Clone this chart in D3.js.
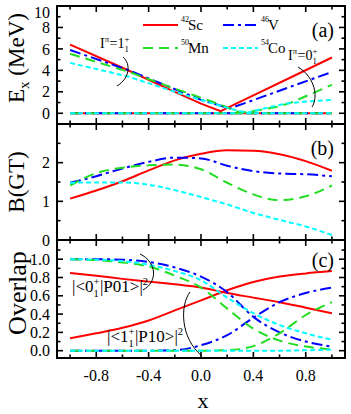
<!DOCTYPE html>
<html><head><meta charset="utf-8">
<script src="https://cdn.jsdelivr.net/npm/d3@7"></script>
<style>
body{margin:0;background:#fff}
svg{display:block}
svg text{font-family:"Liberation Serif","Times New Roman",serif;fill:#000}
</style>
</head><body>
<svg id="chart" width="351" height="414" font-family="Liberation Serif, serif"></svg>
<script>
// ---------------- DATA ----------------
const isotopes = ["Sc", "V", "Mn", "Co"];
const massNumbers = ["42", "46", "50", "54"];
const colors = ["#ff0000", "#0000ff", "#22dd22", "#00ffff"];
const dashes = [null, "11,4,3,4", "10,6", "5,3"];

// panel (a): excitation energy of the non-ground state [x, Ex]
const exSc = [[-1,6.4],[-0.6,4.24],[-0.2,2.0],[0,0.9],[0.15,0.2],[0.4,1.67],[0.7,3.43],[1,5.2]];
const exV  = [[-1,5.9],[-0.55,4.0],[-0.2,2.25],[0,1.25],[0.22,0.45],[0.4,1.23],[0.7,2.54],[1,3.85]];
const exMn = [[-1,5.55],[-0.55,3.85],[-0.2,2.3],[0,1.45],[0.15,0.8],[0.3,0.05],[0.45,0.3],[0.6,0.65],[0.7,1.05],[0.85,1.85],[1,2.65]];
const exCo = [[-1,4.7],[-0.55,3.4],[-0.2,2.0],[0,1.25],[0.2,0.5],[0.35,0.05],[0.5,0.5],[0.65,0.9],[0.8,1.1],[1,1.25]];
const groundLine = [[-1,0],[1,0]];

// shared x grid for panels (b) and (c)
const xGrid = [-1,-0.8,-0.6,-0.4,-0.2,0,0.2,0.4,0.6,0.8,1];

// panel (b): B(GT)
const bgtSc = [1.07,1.28,1.52,1.80,2.06,2.23,2.32,2.31,2.22,2.04,1.79];
const bgtV  = [1.48,1.65,1.85,2.02,2.13,2.11,1.92,1.78,1.72,1.70,1.65];
const bgtMn = [1.41,1.73,1.87,1.93,1.95,1.83,1.48,1.18,1.03,1.13,1.41];
const bgtCo = [1.48,1.49,1.49,1.43,1.29,1.11,0.92,0.70,0.52,0.35,0.13];

// panel (c): overlaps |<0+|P01>|^2 and |<1+|P10>|^2
const ov01Sc = [0.85,0.82,0.785,0.755,0.725,0.69,0.63,0.58,0.53,0.47,0.41];
const ov10Sc = [0.135,0.19,0.25,0.33,0.44,0.55,0.66,0.75,0.81,0.845,0.87];
const ov01V  = [1.0,1.0,0.995,0.97,0.91,0.81,0.64,0.37,0.2,0.1,0.045];
const ov10V  = [0,0,0,0,0.005,0.06,0.17,0.36,0.53,0.63,0.69];
const ov01Mn = [1.0,0.99,0.965,0.92,0.82,0.69,0.46,0.24,0.11,0.045,0.015];
const ov10Mn = [0,0,0,0,0,0,0.005,0.05,0.19,0.39,0.53];
const ov01Co = [1.0,0.995,0.98,0.94,0.87,0.77,0.58,0.41,0.28,0.19,0.12];
const ov10Co = [0,0,0,0,0,0,0,0,0,0.005,0.01];

// ticks
const xMajor = [-0.8,-0.4,0,0.4,0.8];
const xMinor = [-1,-0.6,-0.2,0.2,0.6,1];
const xTickLabels = ["-0.8","-0.4","0.0","0.4","0.8"];
const yMajorA = [0,2,4,6,8,10], yMinorA = [-1,1,3,5,7,9];
const yLabelsA = ["0","2","4","6","8","10"];
const yMajorB = [0,1,2,3], yMinorB = [0.5,1.5,2.5];
const yLabelsB = ["0","1","2"];
const yMajorC = [0,0.2,0.4,0.6,0.8,1.0], yMinorC = [0.1,0.3,0.5,0.7,0.9,1.1];
const yLabelsC = ["0.0","0.2","0.4","0.6","0.8","1.0"];

// ---------------- LAYOUT ----------------
const svg = d3.select("#chart");
const L = 57, R = 345;
const x = d3.scaleLinear().domain([-1.1, 1.1]).range([L, R]);
const panels = [
  {top: 6, bottom: 124, y: d3.scaleLinear().domain([-1, 10]).range([124, 6]),
   maj: yMajorA, min: yMinorA, labels: yLabelsA},
  {top: 124, bottom: 240, y: d3.scaleLinear().domain([0, 3]).range([240, 124]),
   maj: yMajorB, min: yMinorB, labels: yLabelsB},
  {top: 240, bottom: 358, y: d3.scaleLinear().domain([-0.08, 1.21]).range([358, 240]),
   maj: yMajorC, min: yMinorC, labels: yLabelsC}
];

const lineGen = (ys, curve) => d3.line().x(d => x(d[0])).y(d => ys(d[1])).curve(curve);

function drawSeries(g, p, data, i, curve) {
  const path = g.append("path").datum(data)
    .attr("fill", "none").attr("stroke", colors[i]).attr("stroke-width", 2)
    .attr("d", lineGen(p.y, curve));
  if (dashes[i]) path.attr("stroke-dasharray", dashes[i]);
}

const plot = svg.append("g");

// panel a
{
  const p = panels[0];
  const exAll = [exSc, exV, exMn, exCo];
  exAll.forEach((d, i) => drawSeries(plot, p, groundLine, i, d3.curveLinear));
  exAll.forEach((d, i) => drawSeries(plot, p, d, i, d3.curveLinear));
}
// panel b
{
  const p = panels[1];
  [bgtSc, bgtV, bgtMn, bgtCo].forEach((v, i) =>
    drawSeries(plot, p, xGrid.map((xx, k) => [xx, v[k]]), i, d3.curveMonotoneX));
}
// panel c
{
  const p = panels[2];
  const s01 = [ov01Sc, ov01V, ov01Mn, ov01Co];
  const s10 = [ov10Sc, ov10V, ov10Mn, ov10Co];
  [0,1,2,3].forEach(i => {
    drawSeries(plot, p, xGrid.map((xx, k) => [xx, s01[i][k]]), i, d3.curveMonotoneX);
    drawSeries(plot, p, xGrid.map((xx, k) => [xx, s10[i][k]]), i, d3.curveMonotoneX);
  });
}

// frames and ticks
panels.forEach(p => {
  const g = svg.append("g");
  const tk = (x1, y1, x2, y2) => g.append("line").attr("x1", x1).attr("y1", y1).attr("x2", x2).attr("y2", y2)
    .attr("stroke", "#000").attr("stroke-width", 1.6);
  xMajor.forEach(v => { tk(x(v), p.bottom, x(v), p.bottom - 6); tk(x(v), p.top, x(v), p.top + 6); });
  xMinor.forEach(v => { tk(x(v), p.bottom, x(v), p.bottom - 3.5); tk(x(v), p.top, x(v), p.top + 3.5); });
  p.maj.forEach(v => { tk(L, p.y(v), L + 6, p.y(v)); tk(R, p.y(v), R - 6, p.y(v)); });
  p.min.forEach(v => { tk(L, p.y(v), L + 3.5, p.y(v)); tk(R, p.y(v), R - 3.5, p.y(v)); });
  g.append("rect").attr("x", L).attr("y", p.top).attr("width", R - L).attr("height", p.bottom - p.top)
    .attr("fill", "none").attr("stroke", "#000").attr("stroke-width", 2);
  p.labels.forEach((s, k) => {
    const yy = Math.max(p.y(p.maj[k]), 12);
    g.append("text").attr("x", L - 7).attr("y", yy).attr("dy", "0.35em")
      .attr("text-anchor", "end").attr("font-size", 16).text(s);
  });
});

// x tick labels
xMajor.forEach((v, k) => {
  svg.append("text").attr("x", x(v)).attr("y", 381).attr("text-anchor", "middle")
    .attr("font-size", 16).text(xTickLabels[k]);
});

// axis titles
svg.append("text").attr("x", 203).attr("y", 408).attr("text-anchor", "middle").attr("font-size", 22).text("x");
{
  const t = svg.append("text").attr("transform", "translate(24,58) rotate(-90)")
    .attr("text-anchor", "middle").attr("font-size", 23);
  t.append("tspan").text("E");
  t.append("tspan").attr("font-size", 15).attr("dy", 5).text("x");
  t.append("tspan").attr("dy", -5).text(" (MeV)");
}
svg.append("text").attr("transform", "translate(24,182) rotate(-90)")
  .attr("text-anchor", "middle").attr("font-size", 23).text("B(GT)");
svg.append("text").attr("transform", "translate(26,293) rotate(-90)")
  .attr("text-anchor", "middle").attr("font-size", 26).text("Overlap");

// panel labels
[["(a)", 37], ["(b)", 155], ["(c)", 267]].forEach(([s, yy]) =>
  svg.append("text").attr("x", 334).attr("y", yy).attr("text-anchor", "end").attr("font-size", 20).text(s));

// legend
[[0, 143, 25], [1, 223, 25], [2, 143, 48], [3, 223, 48]].forEach(([i, lx, ly]) => {
  const ln = svg.append("line").attr("x1", lx).attr("x2", lx + 35).attr("y1", ly).attr("y2", ly)
    .attr("stroke", colors[i]).attr("stroke-width", 2);
  if (dashes[i]) ln.attr("stroke-dasharray", dashes[i]);
  svg.append("text").attr("x", lx + 38).attr("y", ly - 3).attr("font-size", 8).text(massNumbers[i]);
  svg.append("text").attr("x", lx + 45).attr("y", ly + 5).attr("font-size", 15).text(isotopes[i]);
});

// rich text helper
function rich(x0, y0, size, segs) {
  let cx = x0;
  segs.forEach(s => {
    if (s.t !== undefined) {
      const t = svg.append("text").attr("x", cx).attr("y", y0).attr("font-size", size).text(s.t);
      cx += t.node().getComputedTextLength();
    } else {
      let w = 0;
      if (s.sup) {
        const t = svg.append("text").attr("x", cx).attr("y", y0 - size * 0.4).attr("font-size", size * 0.62).text(s.sup);
        w = Math.max(w, t.node().getComputedTextLength());
      }
      if (s.sub) {
        const t = svg.append("text").attr("x", cx).attr("y", y0 + size * 0.28).attr("font-size", size * 0.62).text(s.sub);
        w = Math.max(w, t.node().getComputedTextLength());
      }
      cx += w + 0.5;
    }
  });
}

rich(100, 48, 14, [{t: "I"}, {sup: "π"}, {t: "=1"}, {sub: "1", sup: "+"}]);
rich(288, 60, 14, [{t: "I"}, {sup: "π"}, {t: "=0"}, {sub: "1", sup: "+"}]);
rich(72, 292, 17, [{t: "|<0"}, {sub: "1", sup: "+"}, {t: "|P01>|"}, {sup: "2"}]);
rich(107, 342, 17, [{t: "|<1"}, {sub: "1", sup: "+"}, {t: "|P10>|"}, {sup: "2"}]);

// annotation brackets
const br = d => svg.append("path").attr("d", d).attr("fill", "none").attr("stroke", "#000").attr("stroke-width", 1);
br("M123,57 C131,64 130,78 117,86");
br("M298,67 C316,78 318,98 312,107");
br("M140,254 C157,262 158,282 143,290");
br("M190,292 C180,305 180,338 202,356");
</script>
</body></html>
